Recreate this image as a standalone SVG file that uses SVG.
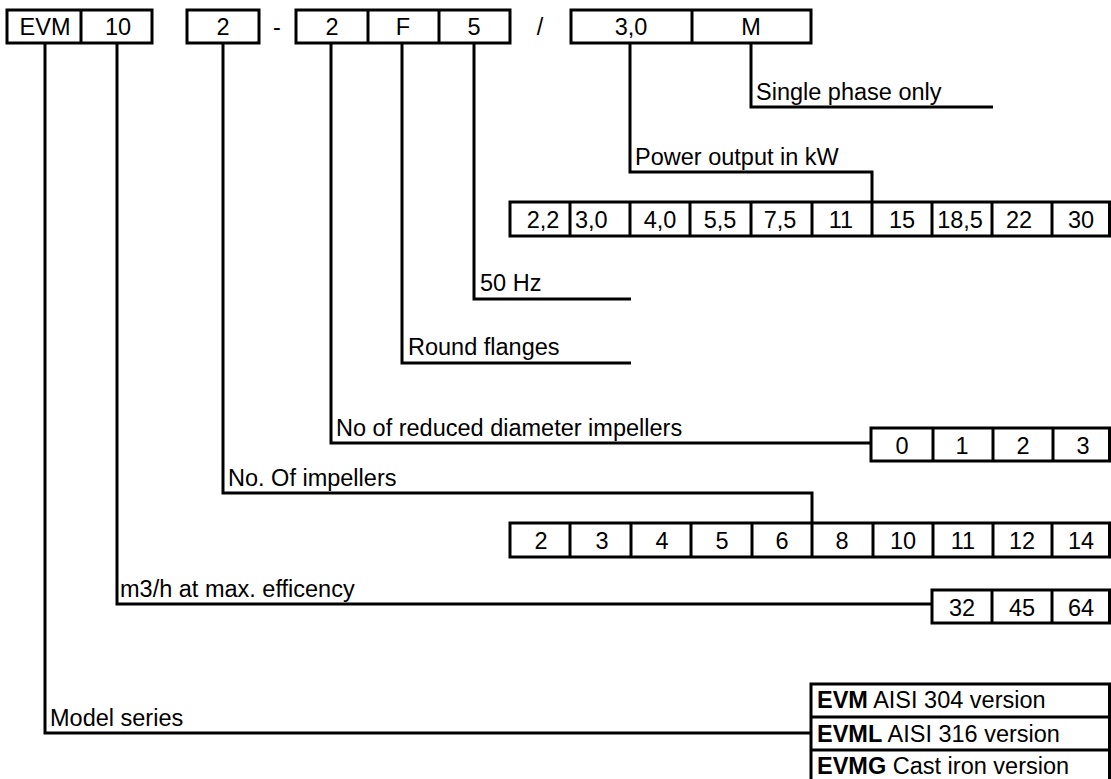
<svg xmlns="http://www.w3.org/2000/svg" width="1111" height="779" viewBox="0 0 1111 779">
<style>
text{font-family:"Liberation Sans",Arial,sans-serif;font-size:23.5px;fill:#000}
.c{text-anchor:middle}
.b{font-weight:bold}
.box{fill:#fff;stroke:#000;stroke-width:3}
.div{stroke:#000;stroke-width:3}
.con{fill:none;stroke:#000;stroke-width:3}
</style>
<rect width="1111" height="779" fill="#fff"/>
<g id="connectors">
<path class="con" d="M45,43 V733 H811"/>
<path class="con" d="M117,43 V604 H932"/>
<path class="con" d="M223,43 V493 H812 V523"/>
<path class="con" d="M331,43 V443 H871"/>
<path class="con" d="M402,43 V363 H631"/>
<path class="con" d="M474,43 V299 H631"/>
<path class="con" d="M630,43 V172 H872 V202"/>
<path class="con" d="M751,43 V107 H993"/>
</g>
<g id="labels">
<text x="756" y="100">Single phase only</text>
<text x="635" y="165">Power output in kW</text>
<text x="480" y="291">50 Hz</text>
<text x="408" y="355">Round flanges</text>
<text x="336" y="436">No of reduced diameter impellers</text>
<text x="228" y="486">No. Of impellers</text>
<text x="120" y="597">m3/h at max. efficency</text>
<text x="50" y="726">Model series</text>
</g>
<g id="code-series-flow">
<rect class="box" x="7" y="10" width="145" height="33"/>
<line class="div" x1="81" y1="10" x2="81" y2="43"/>
<text class="c" x="45" y="35">EVM</text>
<text class="c" x="118" y="35">10</text>
</g>
<g id="code-impellers">
<rect class="box" x="187" y="10" width="72" height="33"/>
<text class="c" x="223" y="35">2</text>
</g>
<text class="c" x="277" y="35">-</text>
<g id="code-reduced-flange-freq">
<rect class="box" x="296" y="10" width="214" height="33"/>
<line class="div" x1="368" y1="10" x2="368" y2="43"/>
<line class="div" x1="439" y1="10" x2="439" y2="43"/>
<text class="c" x="332" y="35">2</text>
<text class="c" x="403" y="35">F</text>
<text class="c" x="474" y="35">5</text>
</g>
<text class="c" x="540" y="35">/</text>
<g id="code-power-phase">
<rect class="box" x="571" y="10" width="240" height="33"/>
<line class="div" x1="692" y1="10" x2="692" y2="43"/>
<text class="c" x="631" y="35">3,0</text>
<text class="c" x="751" y="35">M</text>
</g>
<g id="power-options">
<rect class="box" x="510" y="202" width="599.5" height="34"/>
<path class="div" d="M570,202V236M630,202V236M690,202V236M751,202V236M812,202V236M872,202V236M932,202V236M992,202V236M1052,202V236"/>
<text class="c" x="543" y="228">2,2</text>
<text x="575" y="228">3,0</text>
<text class="c" x="660" y="228">4,0</text>
<text class="c" x="720" y="228">5,5</text>
<text class="c" x="780" y="228">7,5</text>
<text class="c" x="841" y="228">11</text>
<text class="c" x="902" y="228">15</text>
<text class="c" x="960" y="228">18,5</text>
<text class="c" x="1019" y="228">22</text>
<text class="c" x="1081" y="228">30</text>
</g>
<g id="reduced-options">
<rect class="box" x="871" y="428" width="238.5" height="33"/>
<path class="div" d="M933,428V461M993,428V461M1053,428V461"/>
<text class="c" x="902" y="454">0</text>
<text class="c" x="962" y="454">1</text>
<text class="c" x="1023" y="454">2</text>
<text class="c" x="1083" y="454">3</text>
</g>
<g id="impeller-options">
<rect class="box" x="510" y="523" width="599.5" height="34"/>
<path class="div" d="M570,523V557M631,523V557M691,523V557M752,523V557M812,523V557M873,523V557M933,523V557M993,523V557M1052,523V557"/>
<text class="c" x="541" y="549">2</text>
<text class="c" x="602" y="549">3</text>
<text class="c" x="662" y="549">4</text>
<text class="c" x="722" y="549">5</text>
<text class="c" x="782" y="549">6</text>
<text class="c" x="842" y="549">8</text>
<text class="c" x="903" y="549">10</text>
<text class="c" x="963" y="549">11</text>
<text class="c" x="1022" y="549">12</text>
<text class="c" x="1081" y="549">14</text>
</g>
<g id="flow-options">
<rect class="box" x="932" y="590" width="177.5" height="33"/>
<path class="div" d="M992,590V623M1052,590V623"/>
<text class="c" x="962" y="616">32</text>
<text class="c" x="1022" y="616">45</text>
<text class="c" x="1081" y="616">64</text>
</g>
<g id="series-options">
<rect class="box" x="811" y="684" width="298.5" height="99"/>
<path class="div" d="M811,717H1109.5M811,750H1109.5"/>
<text x="817" y="708"><tspan class="b">EVM</tspan> AISI 304 version</text>
<text x="817" y="742"><tspan class="b">EVML</tspan> AISI 316 version</text>
<text x="817" y="774"><tspan class="b">EVMG</tspan> Cast iron version</text>
</g>
</svg>
